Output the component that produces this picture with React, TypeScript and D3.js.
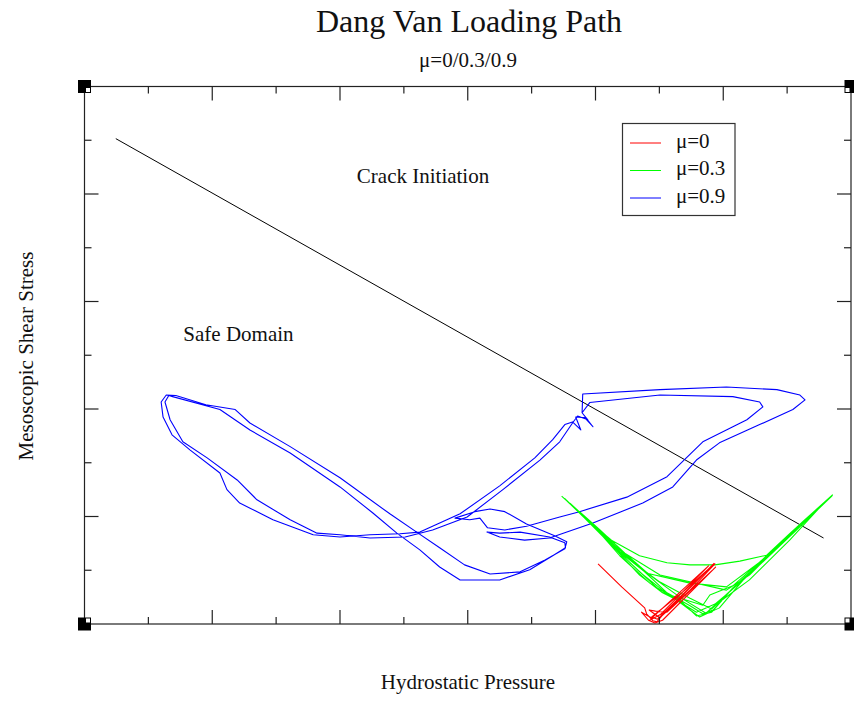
import { useEffect, useRef } from "react";
import * as d3 from "d3";

type Pt = [number, number];

const WIDTH = 854;
const HEIGHT = 701;

const TITLE = "Dang Van Loading Path";
const SUBTITLE = "μ=0/0.3/0.9";
const X_LABEL = "Hydrostatic Pressure";
const Y_LABEL = "Mesoscopic Shear Stress";

// axis ranges (no tick labels are shown in the original)
const X_DOMAIN: Pt = [0, 120];
const Y_DOMAIN: Pt = [0, 100];
const X_MAJOR = [0, 20, 40, 60, 80, 100, 120];
const X_MINOR = [10, 30, 50, 70, 90, 110];
const Y_MAJOR = [0, 20, 40, 60, 80, 100];
const Y_MINOR = [10, 30, 50, 70, 90];

const SERIES_NAMES = ["μ=0", "μ=0.3", "μ=0.9"];
const SERIES_COLORS = ["#ff0000", "#00ff00", "#0000ff"];

// Dang Van limit line
const dangVanLine: Pt[] = [
  [4.9, 90.3],
  [115.7, 16.0],
];

const REGION_TEXT = ["Crack Initiation", "Safe Domain"];
const REGION_X = [53.0, 24.1];
const REGION_Y = [82.1, 52.7];

// mu = 0
const redPath: Pt[] = [
  [80.4, 11.2], [84.1, 6.9], [87.7, 3.0], [88.0, 1.9], [89.0, 0.6], [89.6, 0.4],
  [90.4, 1.5], [94.8, 6.3], [98.7, 11.2], [98.2, 10.8], [93.2, 4.8], [89.7, 0.9],
  [88.8, 1.3], [94.0, 6.3], [98.4, 11.0], [96.3, 8.6], [90.8, 2.2], [88.5, 0.7],
  [90.1, 1.7], [97.7, 10.8], [88.8, 1.1], [87.2, 2.2], [88.3, 0.7], [89.3, 0.2],
  [90.5, 0.7], [98.8, 10.6], [98.4, 10.1], [91.2, 2.2], [89.4, 2.4], [88.4, 2.6],
  [90.0, 1.2], [98.6, 11.3],
];

// mu = 0.3
const greenPath: Pt[] = [
  [74.7, 23.8], [79.1, 19.0], [82.5, 15.6], [86.9, 12.7], [91.2, 11.4], [94.8, 11.0],
  [98.7, 11.0], [102.6, 11.7], [106.8, 12.8], [110.4, 16.8], [113.8, 20.5], [117.1, 24.0],
  [112.4, 19.0], [106.8, 12.5], [101.5, 6.7], [98.4, 2.6], [96.8, 1.9], [94.8, 3.4],
  [90.5, 6.3], [86.9, 9.7], [83.0, 14.2], [79.1, 19.0], [75.7, 22.7],
  [79.9, 18.1], [83.8, 13.4], [87.9, 9.5], [94.8, 7.6], [100.5, 6.9], [105.7, 11.5],
  [112.0, 18.2], [116.7, 23.5],
  [111.5, 17.5], [105.7, 11.0], [101.0, 6.0], [98.2, 2.2], [95.8, 1.5], [93.7, 3.9],
  [90.5, 5.8], [86.9, 9.1], [82.5, 14.7], [78.3, 19.7], [75.2, 23.3],
  [80.7, 17.1], [85.4, 11.4], [90.5, 5.8], [96.8, 3.5], [97.9, 5.4], [101.5, 7.1],
  [106.8, 12.7], [112.4, 19.0], [117.0, 23.8],
  [112.0, 18.1], [106.8, 12.3], [102.6, 7.6], [98.7, 3.7], [95.8, 2.2], [93.2, 4.1],
  [88.5, 7.6], [83.8, 12.7], [80.7, 16.9], [76.8, 21.6],
  [81.5, 16.2], [86.9, 10.6], [91.2, 5.8], [94.8, 2.6], [96.3, 1.3], [99.4, 3.0],
  [103.4, 8.6], [108.1, 13.8], [113.5, 19.9], [117.1, 24.0],
  [105.7, 11.2], [100.2, 5.2], [97.3, 2.0], [93.2, 5.0], [88.5, 9.1], [84.6, 13.2],
  [80.7, 17.5], [77.5, 20.9],
  [82.5, 14.7], [90.1, 9.1], [100.5, 6.3], [104.1, 9.1], [110.4, 16.6], [115.9, 22.7],
  [110.4, 15.6], [104.1, 8.2], [99.4, 4.1], [98.2, 2.8], [94.8, 4.8], [90.1, 7.8],
  [85.4, 11.9], [80.7, 17.3], [76.0, 22.5],
];

// mu = 0.9, first cycle
const blueCycleA: Pt[] = [
  [77.9, 39.3], [79.6, 36.7], [78.3, 38.4], [76.9, 38.5], [77.7, 36.1], [76.4, 37.6],
  [75.2, 37.1], [73.3, 34.3], [70.5, 30.9], [65.0, 25.7], [58.8, 20.5], [52.5, 17.1],
  [49.4, 16.8], [44.7, 16.6], [40.0, 16.2], [35.8, 16.6], [29.5, 19.4], [24.3, 22.5],
  [22.3, 25.0], [21.2, 28.1], [16.5, 32.4], [13.7, 35.2], [12.3, 38.5], [12.0, 41.3],
  [12.8, 42.6], [14.3, 42.5], [19.0, 40.8], [23.6, 39.9], [25.9, 37.4], [32.2, 33.0],
  [40.0, 27.2], [47.8, 20.5], [52.0, 17.1], [55.6, 14.2], [59.5, 11.0], [63.5, 9.3],
  [68.2, 9.7], [72.1, 11.9], [75.2, 14.0], [75.5, 15.3], [73.6, 16.4], [69.2, 18.6],
  [65.8, 20.9], [63.5, 21.4], [61.1, 20.9], [58.0, 19.7], [60.3, 19.4], [61.9, 19.7],
  [63.1, 17.9], [65.8, 17.5], [69.2, 18.2], [74.4, 19.9], [77.5, 20.9], [84.9, 23.6],
  [91.2, 27.4], [96.8, 33.9], [103.7, 38.0], [106.2, 40.4], [105.7, 41.3], [101.5, 42.3],
  [90.1, 42.6], [79.1, 41.2], [77.9, 39.3],
];

// mu = 0.9, second cycle
const blueCycleB: Pt[] = [
  [78.8, 38.0], [77.2, 38.7], [76.4, 37.4], [74.4, 33.9], [71.3, 30.5], [65.5, 25.0],
  [59.9, 19.9], [54.5, 17.5], [50.2, 16.2], [44.7, 16.0], [40.0, 16.6], [36.4, 16.9],
  [32.2, 19.4], [27.0, 23.1], [23.9, 26.8], [19.2, 30.9], [15.4, 33.9], [13.4, 38.0],
  [12.6, 41.3], [13.2, 42.5], [13.8, 42.3], [21.2, 39.9], [25.9, 36.1], [32.2, 31.8],
  [40.0, 25.5], [45.1, 20.7], [48.9, 16.9], [52.5, 13.8], [55.6, 10.6], [58.8, 8.2],
  [65.0, 8.2], [69.7, 10.1], [73.3, 12.7], [75.3, 14.2], [75.2, 15.1], [72.8, 16.2],
  [68.2, 17.1], [65.0, 16.9], [63.0, 17.1], [65.0, 16.2], [68.9, 15.6], [72.8, 16.0],
  [79.6, 18.8], [87.4, 22.5], [92.1, 25.5], [95.8, 30.5], [99.4, 33.7], [105.7, 37.1],
  [110.9, 39.9], [112.8, 41.7], [112.0, 42.6], [108.4, 43.6], [100.5, 44.1], [90.1, 43.6],
  [78.0, 42.8], [77.9, 39.3],
];

const bluePath: Pt[] = [...blueCycleA, ...blueCycleB];

const SERIF = "'Liberation Serif', 'Times New Roman', serif";

export default function App() {
  const svgRef = useRef<SVGSVGElement>(null);

  useEffect(() => {
    const svgEl = svgRef.current;
    if (!svgEl) return;

    const left = 84.5;
    const right = 851;
    const top = 86.5;
    const bottom = 624;

    const x = d3.scaleLinear().domain(X_DOMAIN).range([left, right]);
    const y = d3.scaleLinear().domain(Y_DOMAIN).range([bottom, top]);

    const root = d3.select(svgEl);
    root.selectAll("*").remove();
    root.append("rect").attr("width", WIDTH).attr("height", HEIGHT).attr("fill", "#fff");

    // titles
    root
      .append("text")
      .attr("x", 469)
      .attr("y", 32)
      .attr("text-anchor", "middle")
      .attr("font-family", SERIF)
      .attr("font-size", 32)
      .attr("fill", "#111")
      .text(TITLE);
    root
      .append("text")
      .attr("x", 468)
      .attr("y", 67)
      .attr("text-anchor", "middle")
      .attr("font-family", SERIF)
      .attr("font-size", 21)
      .attr("fill", "#111")
      .text(SUBTITLE);

    const line = d3
      .line<Pt>()
      .x((d) => x(d[0]))
      .y((d) => y(d[1]));

    const plot = root.append("g");

    plot
      .append("path")
      .attr("d", line(dangVanLine))
      .attr("fill", "none")
      .attr("stroke", "#000")
      .attr("stroke-width", 1);

    const series = [redPath, greenPath, bluePath];
    // blue first, then green, red on top
    [2, 1, 0].forEach((i) => {
      plot
        .append("path")
        .attr("d", line(series[i]))
        .attr("fill", "none")
        .attr("stroke", SERIES_COLORS[i])
        .attr("stroke-width", 1.1)
        .attr("stroke-linejoin", "round");
    });

    REGION_TEXT.forEach((t, i) => {
      plot
        .append("text")
        .attr("x", x(REGION_X[i]))
        .attr("y", y(REGION_Y[i]))
        .attr("text-anchor", "middle")
        .attr("font-family", SERIF)
        .attr("font-size", 21)
        .attr("fill", "#111")
        .text(t);
    });

    // frame
    const frameColor = "#222";
    root
      .append("rect")
      .attr("x", left)
      .attr("y", top)
      .attr("width", right - left)
      .attr("height", bottom - top)
      .attr("fill", "none")
      .attr("stroke", frameColor)
      .attr("stroke-width", 1.2);

    const ticks = root.append("g").attr("stroke", frameColor).attr("stroke-width", 1.2);
    const majorLen = 14;
    const minorLen = 7;
    const addX = (vals: number[], len: number) => {
      vals.forEach((v) => {
        ticks.append("line").attr("x1", x(v)).attr("x2", x(v)).attr("y1", bottom).attr("y2", bottom - len);
        ticks.append("line").attr("x1", x(v)).attr("x2", x(v)).attr("y1", top).attr("y2", top + len);
      });
    };
    const addY = (vals: number[], len: number) => {
      vals.forEach((v) => {
        ticks.append("line").attr("y1", y(v)).attr("y2", y(v)).attr("x1", left).attr("x2", left + len);
        ticks.append("line").attr("y1", y(v)).attr("y2", y(v)).attr("x1", right).attr("x2", right - len);
      });
    };
    addX(X_MAJOR.slice(1, -1), majorLen);
    addX(X_MINOR, minorLen);
    addY(Y_MAJOR.slice(1, -1), majorLen);
    addY(Y_MINOR, minorLen);

    // corner handles
    const corners: [number, number, number, number][] = [
      [left, top, 1, 1],
      [left, bottom, 1, -1],
      [right, top, -1, 1],
      [right, bottom, -1, -1],
    ];
    corners.forEach(([cx, cy, sx, sy]) => {
      root
        .append("rect")
        .attr("x", cx - 6.5)
        .attr("y", cy - 6.5)
        .attr("width", 13)
        .attr("height", 13)
        .attr("fill", "#000");
      root
        .append("rect")
        .attr("x", sx > 0 ? cx + 1.5 : cx - 5.5)
        .attr("y", sy > 0 ? cy + 1.5 : cy - 5.5)
        .attr("width", 4)
        .attr("height", 4)
        .attr("fill", "#fff");
    });

    // axis labels
    root
      .append("text")
      .attr("x", 468)
      .attr("y", 689)
      .attr("text-anchor", "middle")
      .attr("font-family", SERIF)
      .attr("font-size", 21)
      .attr("fill", "#111")
      .text(X_LABEL);
    root
      .append("text")
      .attr("transform", `translate(33,356) rotate(-90)`)
      .attr("text-anchor", "middle")
      .attr("font-family", SERIF)
      .attr("font-size", 21)
      .attr("fill", "#111")
      .text(Y_LABEL);

    // legend
    const legend = root.append("g").attr("transform", "translate(622.5,123.5)");
    legend
      .append("rect")
      .attr("width", 112.5)
      .attr("height", 92)
      .attr("fill", "#fff")
      .attr("stroke", "#333")
      .attr("stroke-width", 1.2);
    SERIES_NAMES.forEach((name, i) => {
      const ly = 19.5 + i * 27.5;
      legend
        .append("line")
        .attr("x1", 7.5)
        .attr("x2", 38.5)
        .attr("y1", ly)
        .attr("y2", ly)
        .attr("stroke", SERIES_COLORS[i])
        .attr("stroke-width", 1);
      legend
        .append("text")
        .attr("x", 53.5)
        .attr("y", ly + 4.5)
        .attr("font-family", SERIF)
        .attr("font-size", 21)
        .attr("fill", "#111")
        .text(name);
    });
  }, []);

  return (
    <>
      <style>{`body{margin:0}`}</style>
      <svg ref={svgRef} width={WIDTH} height={HEIGHT} style={{ display: "block" }} />
    </>
  );
}
